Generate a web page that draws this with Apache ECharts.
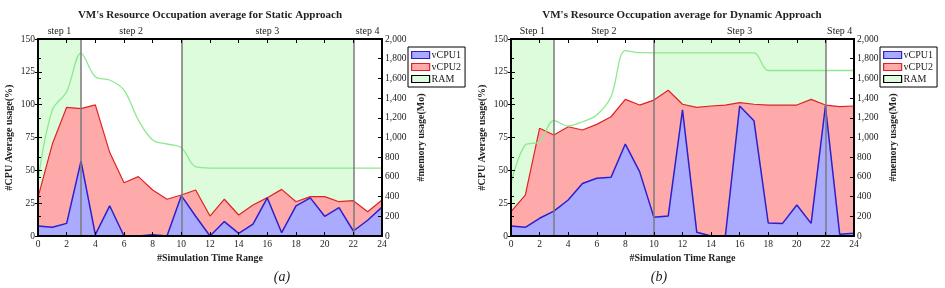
<!DOCTYPE html>
<html>
<head>
<meta charset="utf-8">
<script src="https://cdn.jsdelivr.net/npm/echarts@6/dist/echarts.min.js"></script>
<style>html,body{margin:0;padding:0;background:#fff}#c{width:945px;height:288px}</style>
</head>
<body>
<div id="c"></div>
<script>
// ---- data ----
const timeSteps = [0,1,2,3,4,5,6,7,8,9,10,11,12,13,14,15,16,17,18,19,20,21,22,23,24];
const staticVcpu1 = [7.6,6.6,9.6,57,1,23,0,0,1,0,30.7,15,0,11,2,9,29,2.5,23,29,15,21.6,3.8,12,22];
const staticVcpu2 = [29.4,70,98,97,99.8,63.7,40.6,45.2,35,28,31.2,35,15.2,28,16,23.6,29.2,35.5,26.1,30,30,26.1,26.9,18.5,27.4];
const staticRam = [560,1280,1465,1855,1617,1584,1482,1178,975,934,896,704,690,690,690,690,690,690,690,690,690,690,690,690,690];
const dynamicVcpu1 = [7.6,6.6,13.5,19,27.4,40,44,44.7,70,49,14.2,15.2,96,2.8,0,0,99,87.8,9.9,9.6,23.6,9.6,99,1.3,2];
const dynamicVcpu2 = [18.5,31.2,82,76.9,83.2,80.7,85,90.8,104,99.7,103.5,111,100.3,98,99,99.7,101.5,100.3,99.7,99.7,99.7,104,99.7,98.5,99];
const dynamicRam = [535,924,957,1171,1117,1160,1229,1414,1881,1861,1860,1860,1860,1860,1860,1860,1860,1860,1680,1680,1680,1680,1680,1680,1680];
const stepBounds = [0,3,10,22,24];
const staticStepNames = ['step 1','step 2','step 3','step 4'];
const dynamicStepNames = ['Step 1','Step 2','Step 3','Step 4'];
const stepShaded = [true,false,true,false];
const cpuTicks = {min:0,max:150,interval:25};
const memTicks = {min:0,max:2000,interval:200};
const timeTicks = {min:0,max:24,interval:2};
const titles = ["VM's Resource Occupation average for Static Approach","VM's Resource Occupation average for Dynamic Approach"];
const captions = ['(a)','(b)'];
const xName = '#Simulation Time Range';
const yNameCpu = '#CPU Average usage(%)';
const yNameMem = '#memory usage(Mo)';

// ---- styles ----
const FONT = 'Liberation Serif';
const TXT = '#222';
const BLUE_FILL = '#aaaaff', BLUE_LINE = '#2b1fcf';
const RED_FILL = '#ffaaaa', RED_LINE = '#e02222';
const GREEN_BG = '#dcfcdc', RAM_LINE = '#8ee88e';

const chart = echarts.init(document.getElementById('c'), null, {renderer:'canvas'});
const pairs = v => timeSteps.map((t,i)=>[t, v[i]]);

const grids = [
  {left:38, right:563, top:39, bottom:52, show:true, z:10, borderColor:'#000', borderWidth:1.8, backgroundColor:'rgba(0,0,0,0)'},
  {left:511, right:91, top:39, bottom:52, show:true, z:10, borderColor:'#000', borderWidth:1.8, backgroundColor:'rgba(0,0,0,0)'}
];

const xAxes = [], yAxes = [], series = [];
const tickLabel = {fontFamily:FONT, fontSize:9.5, color:TXT};
const nameStyle = {fontFamily:FONT, fontSize:10, fontWeight:'bold', color:TXT};
const frameLine = {show:true, onZero:false, lineStyle:{color:'#000', width:1.8}};
const tick = len => ({inside:true, length:len, lineStyle:{color:'#000', width:1}});

[0,1].forEach(g => {
  xAxes.push({gridIndex:g, type:'value', position:'bottom', ...timeTicks, z:10,
    axisLine:frameLine, axisTick:tick(4),
    axisLabel:{...tickLabel, margin:3}, splitLine:{show:false},
    name:xName, nameLocation:'middle', nameGap:15, nameTextStyle:nameStyle});
  xAxes.push({gridIndex:g, type:'value', position:'top', ...timeTicks, z:10,
    axisLine:frameLine, axisTick:tick(4),
    axisLabel:{show:false}, splitLine:{show:false}});
  yAxes.push({gridIndex:g, type:'value', position:'left', ...cpuTicks, z:10,
    axisLine:frameLine, axisTick:tick(4),
    axisLabel:{...tickLabel, margin:3}, splitLine:{show:false},
    name:yNameCpu, nameLocation:'middle', nameGap:24, nameRotate:90, nameTextStyle:nameStyle});
  yAxes.push({gridIndex:g, type:'value', position:'right', ...memTicks, z:10,
    axisLine:frameLine, axisTick:tick(4),
    axisLabel:{...tickLabel, margin:3, formatter:v=>v.toLocaleString('en-US')}, splitLine:{show:false},
    name:yNameMem, nameLocation:'middle', nameGap:34, nameRotate:90, nameTextStyle:nameStyle});
  yAxes.push({gridIndex:g, type:'value', position:'left', ...memTicks, z:10,
    axisLine:{show:false}, axisTick:tick(3),
    axisLabel:{show:false}, splitLine:{show:false}});
  yAxes.push({gridIndex:g, type:'value', position:'right', ...cpuTicks, z:10,
    axisLine:{show:false}, axisTick:tick(3),
    axisLabel:{show:false}, splitLine:{show:false}});
});

const datasets = [
  {v1:staticVcpu1, v2:staticVcpu2, ram:staticRam, steps:staticStepNames},
  {v1:dynamicVcpu1, v2:dynamicVcpu2, ram:dynamicRam, steps:dynamicStepNames}
];

datasets.forEach((d, g) => {
  const xi = g*2, yi = g*4;
  const areas = d.steps.map((s,i)=>[
    {xAxis:stepBounds[i], name:s, itemStyle:{color: stepShaded[i] ? GREEN_BG : 'rgba(255,255,255,0)', borderWidth:0}},
    {xAxis:stepBounds[i+1]}
  ]);
  series.push({name:'bg'+g, type:'line', xAxisIndex:xi, yAxisIndex:yi+1, data:pairs(d.ram),
    showSymbol:false, lineStyle:{opacity:0}, silent:true, z:1,
    markArea:{silent:true, itemStyle:{borderWidth:0}, emphasis:{disabled:true},
      label:{show:true, position:'top', distance:3, fontFamily:FONT, fontSize:10, color:TXT},
      data:areas}});
  series.push({name:'vCPU2', type:'line', xAxisIndex:xi, yAxisIndex:yi, data:pairs(d.v2),
    showSymbol:false, z:2, color:RED_LINE,
    lineStyle:{color:RED_LINE, width:1.2}, areaStyle:{color:RED_FILL, opacity:1}});
  series.push({name:'vCPU1', type:'line', xAxisIndex:xi, yAxisIndex:yi, data:pairs(d.v1),
    showSymbol:false, z:3, color:BLUE_LINE,
    lineStyle:{color:BLUE_LINE, width:1.5}, areaStyle:{color:BLUE_FILL, opacity:1},
    markLine:{silent:true, symbol:['none','none'], label:{show:false},
      lineStyle:{color:'#7a7a7a', width:1.5, type:'solid'},
      data:stepBounds.slice(1,4).map(b=>({xAxis:b}))}});
  series.push({name:'RAM', type:'line', xAxisIndex:xi, yAxisIndex:yi+1, data:pairs(d.ram),
    showSymbol:false, smooth:0.35, z:4, color:RAM_LINE,
    lineStyle:{color:RAM_LINE, width:1.3}});
});

const legendData = [
  {name:'vCPU1', itemStyle:{color:BLUE_FILL, borderColor:BLUE_LINE, borderWidth:1.2}},
  {name:'vCPU2', itemStyle:{color:RED_FILL, borderColor:RED_LINE, borderWidth:1.2}},
  {name:'RAM', itemStyle:{color:GREEN_BG, borderColor:'#000', borderWidth:1.2}}
];
const legendBase = {orient:'vertical', top:47, icon:'rect', itemWidth:18, itemHeight:7, itemGap:2,
  padding:[3,4,3,3], borderColor:'#000', borderWidth:1, backgroundColor:'#fff', z:20,
  textStyle:{fontFamily:FONT, fontSize:10, color:TXT, padding:[0,0,0,-3]}, data:legendData, selectedMode:false};

const titleCenters = [210, 682];
const captionCenters = [282, 659];
const graphics = [];
titles.forEach((t,i)=>graphics.push({type:'text', x:titleCenters[i], y:15,
  style:{text:t, textAlign:'center', textVerticalAlign:'middle', font:'bold 11px "Liberation Serif"', fill:TXT}}));
captions.forEach((t,i)=>graphics.push({type:'text', x:captionCenters[i], y:277,
  style:{text:t, textAlign:'center', textVerticalAlign:'middle', font:'italic 14px "Liberation Serif"', fill:TXT}}));

chart.setOption({
  animation:false,
  grid:grids, xAxis:xAxes, yAxis:yAxes, series:series,
  legend:[{...legendBase, left:408}, {...legendBase, left:880}],
  graphic:graphics
});
</script>
</body>
</html>
